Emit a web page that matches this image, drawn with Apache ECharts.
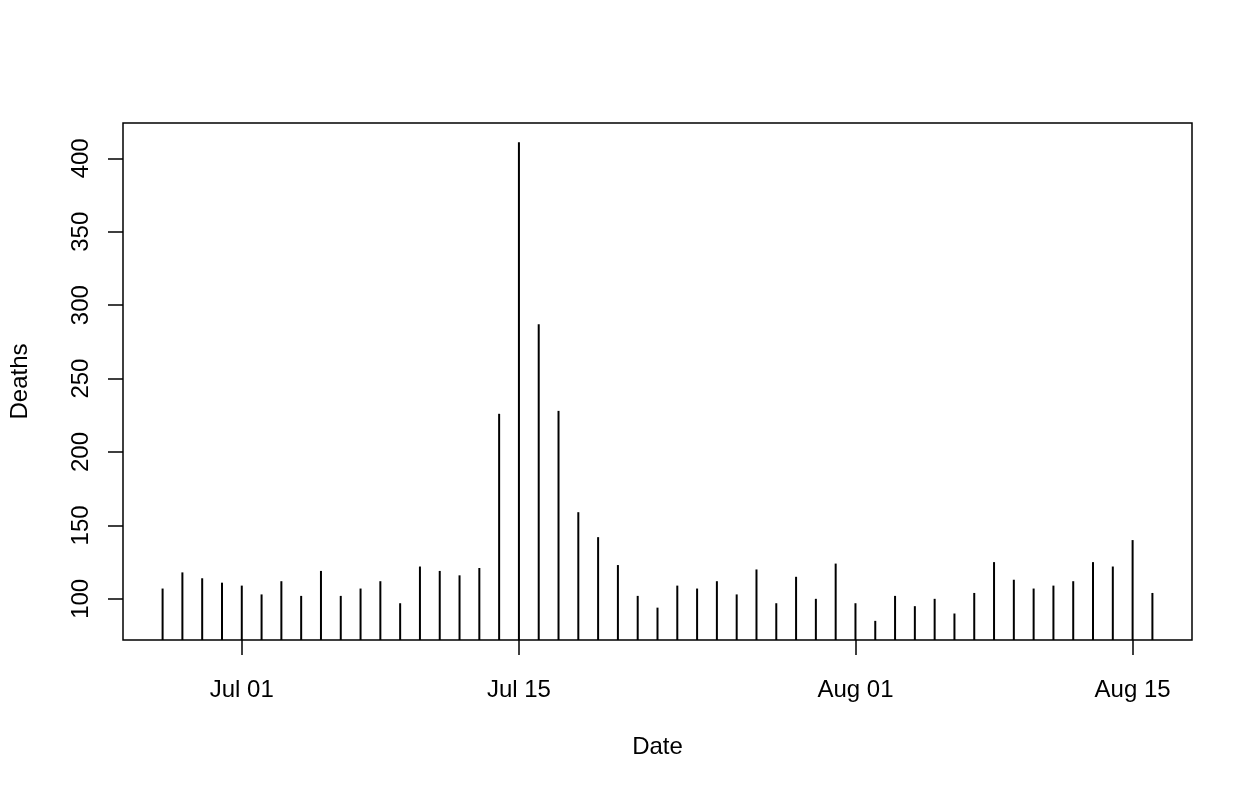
<!DOCTYPE html>
<html>
<head>
<meta charset="utf-8">
<script src="https://cdn.jsdelivr.net/npm/echarts@6/dist/echarts.min.js"></script>
<style>
  html, body { margin: 0; padding: 0; background: #fff; }
  #chart { width: 1256px; height: 794px; }
</style>
</head>
<body>
<div id="chart"></div>
<script>
// ---- data ----
const dates = [
  "2020-06-27","2020-06-28","2020-06-29","2020-06-30",
  "2020-07-01","2020-07-02","2020-07-03","2020-07-04","2020-07-05","2020-07-06","2020-07-07",
  "2020-07-08","2020-07-09","2020-07-10","2020-07-11","2020-07-12","2020-07-13","2020-07-14",
  "2020-07-15","2020-07-16","2020-07-17","2020-07-18","2020-07-19","2020-07-20","2020-07-21",
  "2020-07-22","2020-07-23","2020-07-24","2020-07-25","2020-07-26","2020-07-27","2020-07-28",
  "2020-07-29","2020-07-30","2020-07-31",
  "2020-08-01","2020-08-02","2020-08-03","2020-08-04","2020-08-05","2020-08-06","2020-08-07",
  "2020-08-08","2020-08-09","2020-08-10","2020-08-11","2020-08-12","2020-08-13","2020-08-14",
  "2020-08-15","2020-08-16"
];
const deaths = [
  107, 118, 114, 111,
  109, 103, 112, 102, 119, 102, 107,
  112, 97, 122, 119, 116, 121, 226,
  411, 287, 228, 159, 142, 123, 102,
  94, 109, 107, 112, 103, 120, 97,
  115, 100, 124,
  97, 85, 102, 95, 100, 90, 104,
  125, 113, 107, 109, 112, 125, 122,
  140, 104
];
const xTickDates = ["2020-07-01", "2020-07-15", "2020-08-01", "2020-08-15"];
const yTicks = [100, 150, 200, 250, 300, 350, 400];
const xTitle = "Date";
const yTitle = "Deaths";

// ---- helpers ----
const DAY = 86400000;
function toDay(s) {
  const p = s.split("-").map(Number);
  return Date.UTC(p[0], p[1] - 1, p[2]) / DAY;
}
const MONTHS = ["Jan","Feb","Mar","Apr","May","Jun","Jul","Aug","Sep","Oct","Nov","Dec"];
function dayLabel(d) {
  const dt = new Date(d * DAY);
  const dd = dt.getUTCDate();
  return MONTHS[dt.getUTCMonth()] + " " + (dd < 10 ? "0" + dd : "" + dd);
}

const xs = dates.map(toDay);
const xMin0 = Math.min(...xs), xMax0 = Math.max(...xs);
const xPad = (xMax0 - xMin0) * 0.04;
const yMin0 = Math.min(...deaths), yMax0 = Math.max(...deaths);
const yPad = (yMax0 - yMin0) * 0.04;

const seriesData = xs.map((x, i) => [x, deaths[i]]);

const FONT = "Liberation Sans, Arial, Helvetica, sans-serif";
const FS = 24;
const chart = echarts.init(document.getElementById("chart"), null, { renderer: "canvas" });
chart.setOption({
  animation: false,
  backgroundColor: "#ffffff",
  grid: {
    left: 123, right: 64, top: 123, bottom: 154,
    outerBoundsMode: "none",
    containLabel: false,
    show: true, borderColor: "#000", borderWidth: 1.5, backgroundColor: "transparent"
  },
  xAxis: {
    type: "value",
    min: xMin0 - xPad,
    max: xMax0 + xPad,
    splitLine: { show: false },
    axisLine: { show: false },
    axisTick: {
      show: true, length: 15, inside: false,
      customValues: xTickDates.map(toDay),
      lineStyle: { color: "#000", width: 1.5 }
    },
    axisLabel: {
      show: true,
      customValues: xTickDates.map(toDay),
      formatter: v => dayLabel(v),
      color: "#000", fontSize: FS, fontFamily: FONT, margin: 38
    },
    name: xTitle,
    nameLocation: "middle",
    nameGap: 95,
    nameTextStyle: { color: "#000", fontSize: FS, fontFamily: FONT }
  },
  yAxis: {
    type: "value",
    min: yMin0 - yPad,
    max: yMax0 + yPad,
    splitLine: { show: false },
    axisLine: { show: false },
    axisTick: {
      show: true, length: 15, inside: false,
      customValues: yTicks,
      lineStyle: { color: "#000", width: 1.5 }
    },
    axisLabel: {
      show: true,
      customValues: yTicks,
      rotate: 90,
      color: "#000", fontSize: FS, fontFamily: FONT, margin: 30
    },
    name: yTitle,
    nameLocation: "middle",
    nameGap: 91,
    nameRotate: 90,
    nameTextStyle: { color: "#000", fontSize: FS, fontFamily: FONT }
  },
  series: [{
    type: "bar",
    data: seriesData,
    barWidth: 2,
    clip: true,
    itemStyle: { color: "#000" },
    emphasis: { disabled: true }
  }]
});
</script>
</body>
</html>
